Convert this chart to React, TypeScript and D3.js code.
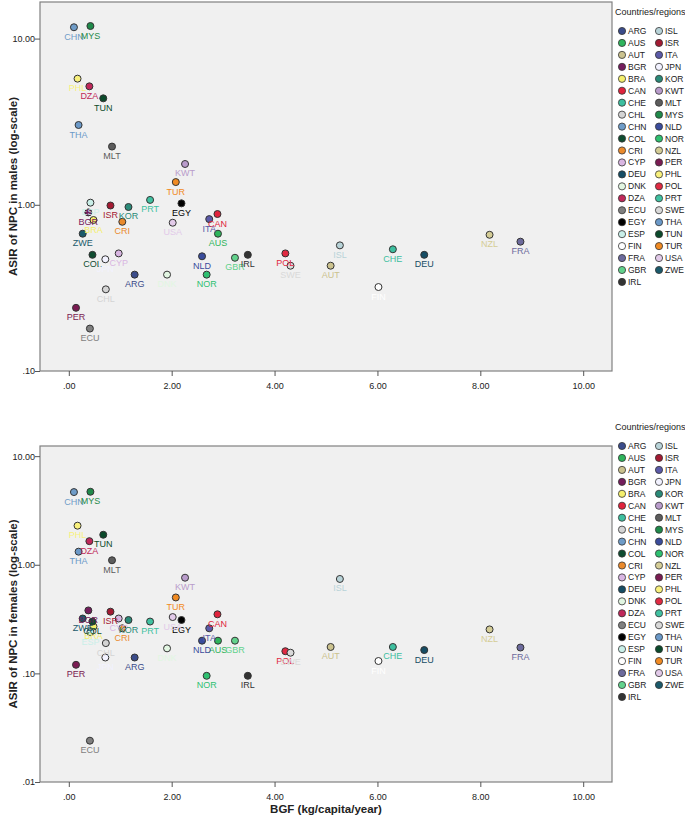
import { useRef, useEffect } from 'react';
import { select, scaleLinear, scaleLog, axisBottom, axisLeft } from 'd3';

const W = 685;
const H = 820;
const FONT = '"Liberation Sans Narrow", "Liberation Sans", Arial, sans-serif';

// countries, BGF and ASIR values
const countries = ['ARG', 'AUS', 'AUT', 'BGR', 'BRA', 'CAN', 'CHE', 'CHL', 'CHN', 'COL', 'CRI', 'CYP', 'DEU', 'DNK', 'DZA', 'ECU', 'EGY', 'ESP', 'FIN', 'FRA', 'GBR', 'IRL',
  'ISL', 'ISR', 'ITA', 'JPN', 'KOR', 'KWT', 'MLT', 'MYS', 'NLD', 'NOR', 'NZL', 'PER', 'PHL', 'POL', 'PRT', 'SWE', 'THA', 'TUN', 'TUR', 'USA', 'ZWE'];
const bgf = [1.28, 2.90, 5.09, 0.38, 0.48, 2.89, 6.30, 0.72, 0.10, 0.46, 1.04, 0.97, 6.91, 1.91, 0.40, 0.41, 2.19, 0.42, 6.02, 8.78, 3.23, 3.48,
  5.27, 0.81, 2.73, 0.71, 1.16, 2.26, 0.84, 0.42, 2.59, 2.68, 8.18, 0.14, 0.17, 4.21, 1.58, 4.31, 0.19, 0.67, 2.08, 2.02, 0.27];
const asirMales = [0.38, 0.67, 0.43, 0.90, 0.81, 0.88, 0.54, 0.31, 11.7, 0.50, 0.79, 0.51, 0.50, 0.38, 5.16, 0.18, 1.02, 1.03, 0.32, 0.60, 0.48, 0.50,
  0.57, 0.99, 0.82, 0.47, 0.97, 1.76, 2.24, 11.9, 0.49, 0.38, 0.66, 0.24, 5.74, 0.51, 1.07, 0.43, 3.02, 4.37, 1.37, 0.78, 0.67];
const asirFemales = [0.14, 0.20, 0.175, 0.38, 0.27, 0.35, 0.175, 0.19, 4.67, 0.30, 0.26, 0.32, 0.164, 0.17, 1.65, 0.024, 0.31, 0.24, 0.13, 0.173, 0.20, 0.095,
  0.74, 0.37, 0.26, 0.14, 0.31, 0.76, 1.10, 4.70, 0.20, 0.095, 0.254, 0.12, 2.29, 0.16, 0.30, 0.155, 1.32, 1.89, 0.50, 0.33, 0.32];
const xTicks = [0, 2, 4, 6, 8, 10];

// SPSS-like marker colours per country
const colors: Record<string, string> = {
  ARG: '#3b4c8a', AUS: '#2fb45c', AUT: '#cbc28e', BGR: '#741d5c', BRA: '#f4ef6c', CAN: '#e0233c', CHE: '#3dbf9f', CHL: '#d4d4d4',
  CHN: '#6f9cc8', COL: '#0f4c30', CRI: '#ea8a2c', CYP: '#d9b6e2', DEU: '#164d64', DNK: '#e2f6e2', DZA: '#c0285a', ECU: '#7f7f7f',
  EGY: '#000000', ESP: '#c9efe8', FIN: '#ffffff', FRA: '#6c6a9c', GBR: '#62d28c', IRL: '#333333', ISL: '#b8d3d8', ISR: '#a31a32',
  ITA: '#5b5aa8', JPN: '#f2f2ff', KOR: '#2a8a78', KWT: '#b99ccb', MLT: '#5c5c5c', MYS: '#1f8a4a', NLD: '#3a4c9c', NOR: '#2ec070',
  NZL: '#d5cd96', PER: '#7a1b52', PHL: '#f8f07c', POL: '#e02a42', PRT: '#40c1a1', SWE: '#d9d9d9', THA: '#6b99c8', TUN: '#0b4a2b',
  TUR: '#f08a22', USA: '#e2cae9', ZWE: '#1b5a6b',
};

const xScale = scaleLinear().domain([-0.56, 10.56]).range([40, 612]);
const fmt = (v: number) => v.toFixed(2).replace(/^0/, '');

type PanelProps = {
  top: number;
  bottom: number;
  yDomain: [number, number];
  yTicks: number[];
  values: number[];
  yTitle: string;
  legendTop: number;
};

function Panel({ top, bottom, yDomain, yTicks, values, yTitle, legendTop }: PanelProps) {
  const xRef = useRef<SVGGElement>(null);
  const yRef = useRef<SVGGElement>(null);
  const yScale = scaleLog().domain(yDomain).range([bottom, top]);

  useEffect(() => {
    const xg = select(xRef.current);
    xg.call(axisBottom(xScale).tickValues(xTicks).tickSize(5).tickFormat((d: any) => fmt(+d)));
    xg.select('.domain').remove();
    xg.selectAll('line').attr('stroke', '#555');
    xg.selectAll('text').attr('font-family', FONT).attr('font-size', 9).attr('fill', '#222').attr('dy', '1.1em');

    const yg = select(yRef.current);
    yg.call(axisLeft(yScale).tickValues(yTicks).tickSize(5).tickFormat((d: any) => fmt(+d)));
    yg.select('.domain').remove();
    yg.selectAll('line').attr('stroke', '#555');
    yg.selectAll('text').attr('font-family', FONT).attr('font-size', 9).attr('fill', '#222').attr('x', -5);
  }, []);

  const half = Math.ceil(countries.length / 2);

  return (
    <g>
      <rect x={40} y={top} width={572} height={bottom - top} fill="#f0f0f0" stroke="#808080" strokeWidth={1.2} />
      <g ref={xRef} transform={`translate(0,${bottom})`} />
      <g ref={yRef} transform="translate(40,0)" />
      <text transform={`translate(17,${(top + bottom) / 2}) rotate(-90)`} textAnchor="middle"
        fontFamily='"Liberation Sans", Arial, sans-serif' fontWeight="bold" fontSize={11.5} fill="#222">{yTitle}</text>

      {countries.map((c, i) => (
        <circle key={c} cx={xScale(bgf[i])} cy={yScale(values[i])} r={3.5}
          fill={colors[c]} stroke="#333" strokeWidth={1} />
      ))}
      {countries.map((c, i) => (
        <text key={c + 'l'} x={xScale(bgf[i])} y={yScale(values[i]) + 12.5} textAnchor="middle"
          fontFamily={FONT} fontSize={9} fill={colors[c]}>{c}</text>
      ))}

      <text x={615} y={legendTop + 3} fontFamily={FONT} fontSize={9} fill="#222">Countries/regions</text>
      {countries.map((c, i) => {
        const col = i < half ? 0 : 1;
        const row = i < half ? i : i - half;
        const cy = legendTop + 19 + row * 11.95;
        const cx = col === 0 ? 622 : 659;
        return (
          <g key={c + 'g'}>
            <circle cx={cx} cy={cy} r={3.6} fill={colors[c]} stroke="#333" strokeWidth={0.8} />
            <text x={cx + 6} y={cy + 3} fontFamily={FONT} fontSize={8.5} fill="#222">{c}</text>
          </g>
        );
      })}
    </g>
  );
}

export default function App() {
  return (
    <div style={{ position: 'absolute', left: 0, top: 0 }}>
      <svg width={W} height={H} style={{ display: 'block', background: '#fff' }}>
        <Panel top={2} bottom={371} yDomain={[0.1, 16.6]} yTicks={[0.1, 1, 10]} values={asirMales}
          yTitle="ASIR of NPC in males (log-scale)" legendTop={12} />
        <Panel top={446} bottom={782} yDomain={[0.01, 12.4]} yTicks={[0.01, 0.1, 1, 10]} values={asirFemales}
          yTitle="ASIR of NPC in females (log-scale)" legendTop={427} />
        <text x={326} y={813} textAnchor="middle" fontFamily='"Liberation Sans", Arial, sans-serif'
          fontWeight="bold" fontSize={11.5} fill="#222">BGF (kg/capita/year)</text>
      </svg>
    </div>
  );
}
